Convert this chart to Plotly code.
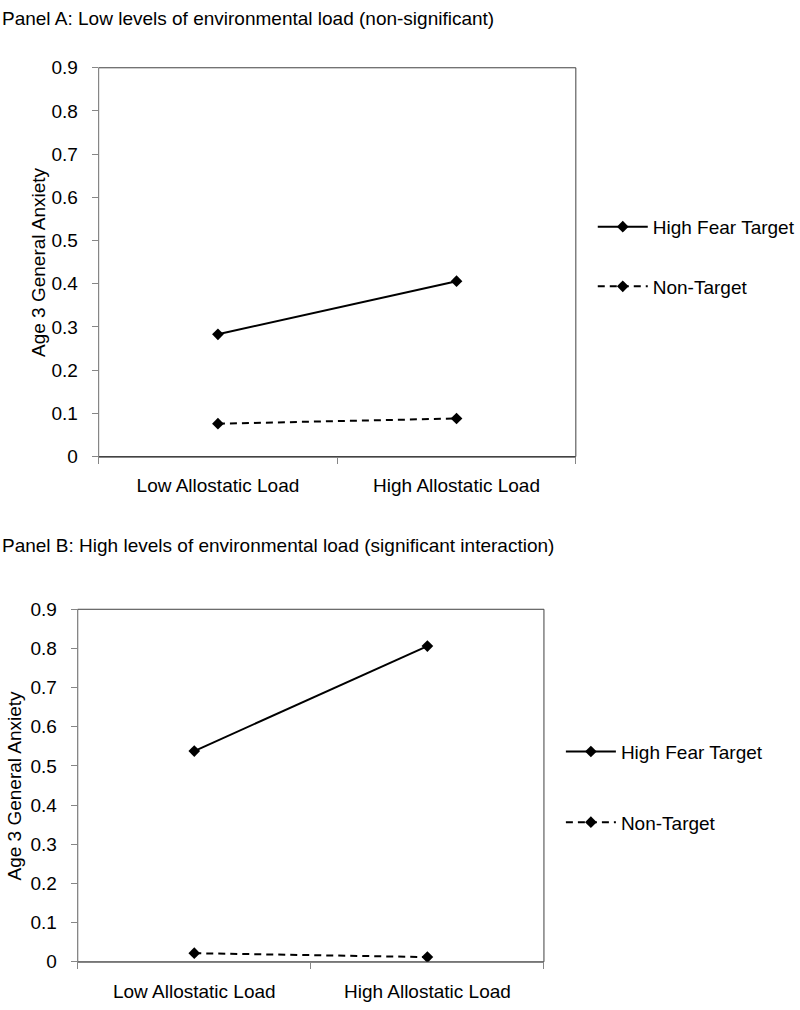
import plotly.graph_objects as go

# --- dados ---
categorias = ["Low Allostatic Load", "High Allostatic Load"]
painel_a_alvo = [0.283, 0.406]      # High Fear Target (panel A)
painel_a_nao_alvo = [0.076, 0.088]  # Non-Target (panel A)
painel_b_alvo = [0.538, 0.806]      # High Fear Target (panel B)
painel_b_nao_alvo = [0.022, 0.012]  # Non-Target (panel B)
nomes_series = ["High Fear Target", "Non-Target"]
titulo_a = "Panel A: Low levels of environmental load (non-significant)"
titulo_b = "Panel B: High levels of environmental load (significant interaction)"
titulo_y = "Age 3 General Anxiety"
y_ticks = [0, 0.1, 0.2, 0.3, 0.4, 0.5, 0.6, 0.7, 0.8, 0.9]

W, H = 800, 1010
FONTE = "Liberation Sans, Arial, sans-serif"
TAM = 19


def px_x(v):
    return v / W


def px_y(v):
    return 1 - v / H


fig = go.Figure()

paineis = [
    ("x", "y", "legend", painel_a_alvo, painel_a_nao_alvo),
    ("x2", "y2", "legend2", painel_b_alvo, painel_b_nao_alvo),
]
for xa, ya, leg, alvo, nao_alvo in paineis:
    fig.add_trace(go.Scatter(
        x=categorias, y=alvo, xaxis=xa, yaxis=ya, legend=leg,
        legendgroup=leg + "a",
        name=nomes_series[0], mode="lines+markers",
        line=dict(color="black", width=2),
        marker=dict(symbol="diamond", size=9, color="black"),
    ))
    fig.add_trace(go.Scatter(
        x=categorias, y=nao_alvo, xaxis=xa, yaxis=ya, legend=leg,
        legendgroup=leg + "b",
        name=nomes_series[1], mode="lines+markers",
        line=dict(color="black", width=2, dash="7px,5px"),
        marker=dict(symbol="diamond", size=9, color="black"),
    ))

# caixas dos graficos (pixels na imagem)
caixa_a = (99, 578, 59, 456)
caixa_b = (78, 546, 612, 972)

eixo_x = dict(
    type="category", range=[-0.5, 1.5], tickson="boundaries",
    ticks="outside", ticklen=6, tickcolor="#868686",
    showline=True, linecolor="#868686", linewidth=1,
    showgrid=False, zeroline=False,
    tickfont=dict(family=FONTE, size=TAM, color="black"),
    ticklabelstandoff=12,
)
eixo_y = dict(
    range=[0, 0.9], tickvals=y_ticks,
    ticks="outside", ticklen=6, tickcolor="#868686",
    showline=True, linecolor="#868686", linewidth=1,
    showgrid=False, zeroline=False,
    tickfont=dict(family=FONTE, size=TAM, color="black"),
    ticklabelstandoff=10,
)

fig.update_layout(
    width=W, height=H,
    margin=dict(l=0, r=0, t=0, b=0),
    paper_bgcolor="white", plot_bgcolor="white",
    font=dict(family=FONTE, size=TAM, color="black"),
    xaxis=dict(eixo_x, domain=[px_x(caixa_a[0]), px_x(caixa_a[1])], anchor="y"),
    yaxis=dict(eixo_y, domain=[px_y(caixa_a[3]), px_y(caixa_a[2])], anchor="x"),
    xaxis2=dict(eixo_x, domain=[px_x(caixa_b[0]), px_x(caixa_b[1])], anchor="y2"),
    yaxis2=dict(eixo_y, domain=[px_y(caixa_b[3]), px_y(caixa_b[2])], anchor="x2"),
    legend=dict(
        x=px_x(595), y=px_y(202), xanchor="left", yanchor="top",
        font=dict(family=FONTE, size=TAM, color="black"),
        tracegroupgap=32, itemwidth=50, bgcolor="rgba(0,0,0,0)",
    ),
    legend2=dict(
        x=px_x(563), y=px_y(738), xanchor="left", yanchor="top",
        font=dict(family=FONTE, size=TAM, color="black"),
        tracegroupgap=43, itemwidth=50, bgcolor="rgba(0,0,0,0)",
    ),
    showlegend=True,
)

# bordas da area do grafico
for xr, yr in [("x domain", "y domain"), ("x2 domain", "y2 domain")]:
    fig.add_shape(type="rect", xref=xr, yref=yr, x0=0, x1=1, y0=0, y1=1,
                  line=dict(color="#404040", width=1), layer="below")

# titulos dos paineis
fig.add_annotation(text=titulo_a, xref="paper", yref="paper",
                   x=0, y=px_y(9), xanchor="left", yanchor="middle",
                   showarrow=False, font=dict(family=FONTE, size=TAM))
fig.add_annotation(text=titulo_b, xref="paper", yref="paper",
                   x=0, y=px_y(547), xanchor="left", yanchor="middle",
                   showarrow=False, font=dict(family=FONTE, size=TAM))

# titulos do eixo y
fig.add_annotation(text=titulo_y, xref="paper", yref="paper", textangle=-90,
                   x=px_x(38), y=px_y((caixa_a[2] + caixa_a[3]) / 2),
                   xanchor="center", yanchor="middle", showarrow=False,
                   font=dict(family=FONTE, size=TAM))
fig.add_annotation(text=titulo_y, xref="paper", yref="paper", textangle=-90,
                   x=px_x(15), y=px_y((caixa_b[2] + caixa_b[3]) / 2),
                   xanchor="center", yanchor="middle", showarrow=False,
                   font=dict(family=FONTE, size=TAM))

# sem margem do body, para a figura ocupar a janela inteira
fig.write_html("out.html", config={"displayModeBar": False},
               post_script="document.body.style.margin='0';")
